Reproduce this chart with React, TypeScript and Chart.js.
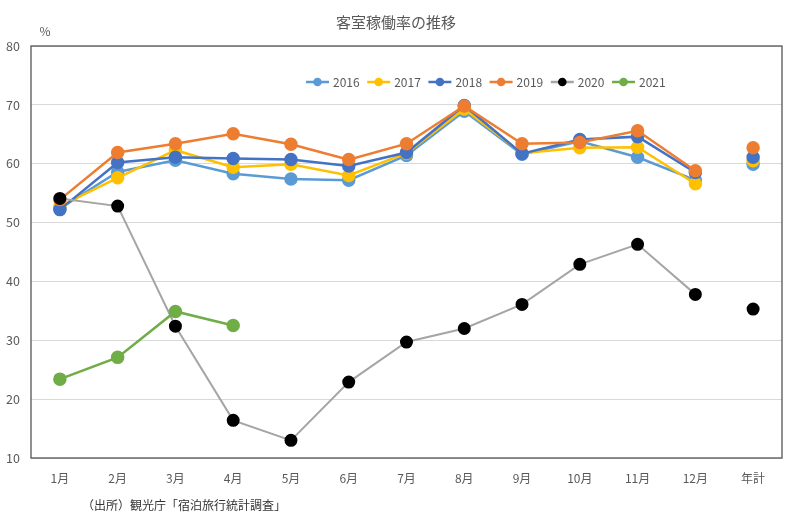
import React, { useEffect, useRef } from 'react';
import { Chart, registerables } from 'chart.js';

Chart.register(...registerables);

const categories = ['1月', '2月', '3月', '4月', '5月', '6月', '7月', '8月', '9月', '10月', '11月', '12月', '年計'];
const yearLabels = ['2016', '2017', '2018', '2019', '2020', '2021'];

const s2016 = [52.4, 58.6, 60.6, 58.3, 57.4, 57.2, 61.4, 68.9, 61.6, 63.8, 61.1, 57.2, 59.9];
const s2017 = [52.8, 57.6, 62.3, 59.4, 59.9, 58.0, 61.8, 69.3, 61.8, 62.7, 62.8, 56.6, 60.5];
const s2018 = [52.2, 60.2, 61.1, 60.9, 60.7, 59.6, 61.9, 69.9, 61.7, 64.1, 64.6, 58.5, 61.1];
const s2019 = [53.9, 61.9, 63.4, 65.1, 63.3, 60.7, 63.4, 69.8, 63.4, 63.6, 65.6, 58.8, 62.7];
const s2020 = [54.1, 52.8, 32.4, 16.4, 13.0, 22.9, 29.7, 32.0, 36.1, 42.9, 46.3, 37.8, 35.3];
const s2021 = [23.4, 27.1, 34.9, 32.5, null, null, null, null, null, null, null, null, null];

const yMin = 10;
const yMax = 80;
const yStep = 10;

const titleText = '客室稼働率の推移';
const unitText = '%';
const sourceText = '（出所）観光庁「宿泊旅行統計調査」';

const lineColors = ['#5B9BD5', '#FFC000', '#4472C4', '#ED7D31', '#A5A5A5', '#70AD47'];
const markerColors = ['#5B9BD5', '#FFC000', '#4472C4', '#ED7D31', '#000000', '#70AD47'];

const FONT = '"Noto Sans CJK JP", "Noto Sans", sans-serif';

const decorPlugin = {
  id: 'decor',
  beforeDatasetsDraw(chart: any) {
    const { ctx, chartArea } = chart;
    ctx.save();
    ctx.strokeStyle = '#555555';
    ctx.lineWidth = 1.3;
    ctx.strokeRect(chartArea.left, chartArea.top, chartArea.right - chartArea.left, chartArea.bottom - chartArea.top);
    ctx.restore();
  },
  afterDraw(chart: any) {
    const { ctx } = chart;
    ctx.save();
    ctx.textBaseline = 'middle';
    // title
    ctx.fillStyle = '#595959';
    ctx.font = '15px ' + FONT;
    ctx.textAlign = 'center';
    ctx.fillText(titleText, 396, 22);
    // unit
    ctx.font = '12px ' + FONT;
    ctx.fillText(unitText, 45, 31);
    // source
    ctx.fillStyle = '#333333';
    ctx.font = '12px ' + FONT;
    ctx.textAlign = 'left';
    ctx.fillText(sourceText, 82, 505);
    // legend
    const y = 82;
    let x = 306;
    chart.data.datasets.forEach((ds: any, i: number) => {
      ctx.strokeStyle = lineColors[i];
      ctx.lineWidth = 2.5;
      ctx.beginPath();
      ctx.moveTo(x, y);
      ctx.lineTo(x + 23, y);
      ctx.stroke();
      ctx.fillStyle = markerColors[i];
      ctx.beginPath();
      ctx.arc(x + 11.5, y, 4.3, 0, Math.PI * 2);
      ctx.fill();
      ctx.fillStyle = '#595959';
      ctx.font = '12px ' + FONT;
      ctx.textAlign = 'left';
      ctx.fillText(ds.label, x + 27, y);
      x += 61.2;
    });
    ctx.restore();
  },
};

export default function App() {
  const ref = useRef<HTMLCanvasElement | null>(null);

  useEffect(() => {
    document.body.style.margin = '0';
    const canvas = ref.current;
    if (!canvas) return;
    const series = [s2016, s2017, s2018, s2019, s2020, s2021];
    const datasets = series.map((data, i) => ({
      label: yearLabels[i],
      data,
      borderColor: lineColors[i],
      backgroundColor: markerColors[i],
      pointBackgroundColor: markerColors[i],
      pointBorderColor: markerColors[i],
      pointRadius: 5.5,
      pointHoverRadius: 5.5,
      borderWidth: i === 4 ? 2 : 2.5,
      tension: 0,
      spanGaps: false,
      order: series.length - 1 - i,
      segment: {
        borderColor: (c: any) => (c.p1DataIndex === categories.length - 1 ? 'rgba(0,0,0,0)' : undefined),
      },
    }));

    const chart = new Chart(canvas, {
      type: 'line',
      data: { labels: categories, datasets },
      options: {
        responsive: false,
        animation: false,
        layout: { padding: { top: 46, right: 18, bottom: 0, left: 0 } },
        plugins: {
          legend: { display: false },
          title: { display: false },
          tooltip: { enabled: false },
        },
        scales: {
          x: {
            type: 'category',
            offset: true,
            grid: { display: false, drawTicks: false },
            border: { display: false },
            ticks: {
              color: '#595959',
              font: { size: 12, family: FONT },
              padding: 13,
              maxRotation: 0,
              autoSkip: false,
            },
            afterFit: (s: any) => {
              s.height = 60;
            },
          },
          y: {
            min: yMin,
            max: yMax,
            grid: { color: '#D9D9D9', lineWidth: 1, drawTicks: false },
            border: { display: false },
            ticks: {
              stepSize: yStep,
              color: '#595959',
              font: { size: 12.5, family: FONT },
              padding: 11,
            },
            afterFit: (s: any) => {
              s.width = 31;
            },
          },
        },
      },
      plugins: [decorPlugin],
    });
    return () => chart.destroy();
  }, []);

  return (
    <div style={{ width: 800, height: 518 }}>
      <canvas ref={ref} width={800} height={518} style={{ display: 'block' }} />
    </div>
  );
}
